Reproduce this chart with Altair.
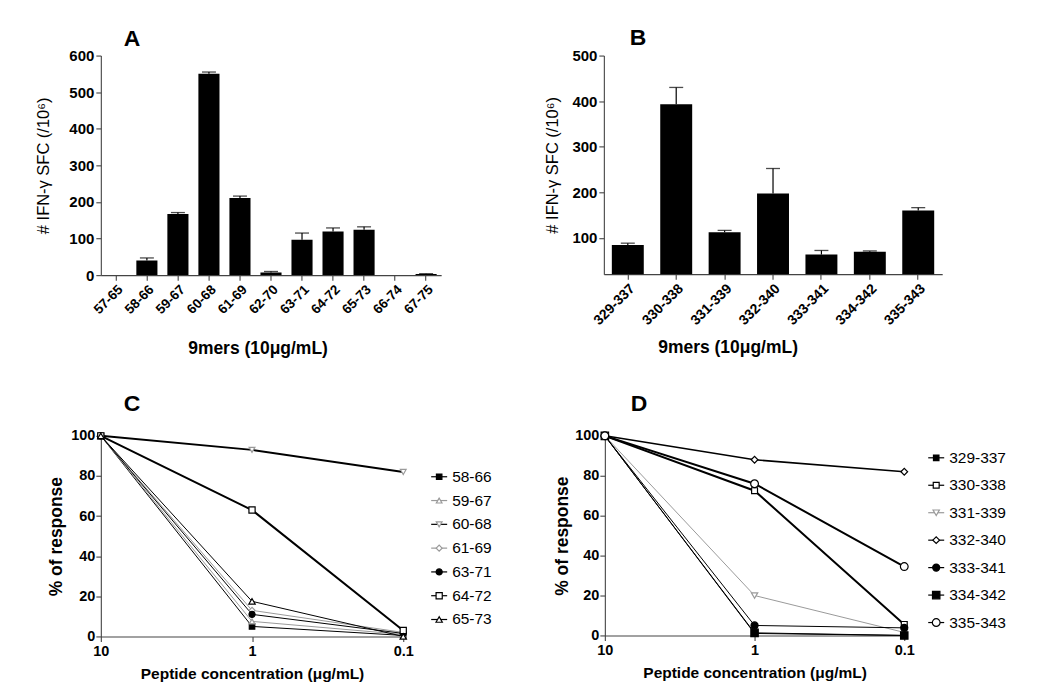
import altair as alt
import pandas as pd

FONT = "Liberation Sans"

# ---------------- data ----------------
a_peptides = ["57-65", "58-66", "59-67", "60-68", "61-69", "62-70",
              "63-71", "64-72", "65-73", "66-74", "67-75"]
a_mean = [0, 40, 167, 550, 211, 7, 97, 119, 124, 0, 3]
a_err = [0, 7, 4, 5, 5, 3, 18, 10, 8, 0, 1]

b_peptides = ["329-337", "330-338", "331-339", "332-340", "333-341", "334-342", "335-343"]
b_mean = [84, 393, 112, 197, 63, 69, 160]
b_err = [4, 37, 4, 55, 9, 2, 6]

conc = [10, 1, 0.1]

c_series = ["58-66", "59-67", "60-68", "61-69", "63-71", "64-72", "65-73"]
c_58_66 = [100, 5, 0.5]
c_59_67 = [100, 7.5, 1]
c_60_68 = [100, 93, 82]
c_61_69 = [100, 13, 2]
c_63_71 = [100, 11, 1.5]
c_64_72 = [100, 63, 3]
c_65_73 = [100, 17.5, 0]
c_values = [c_58_66, c_59_67, c_60_68, c_61_69, c_63_71, c_64_72, c_65_73]

d_series = ["329-337", "330-338", "331-339", "332-340", "333-341", "334-342", "335-343"]
d_329_337 = [100, 1, 0]
d_330_338 = [100, 72.5, 5.5]
d_331_339 = [100, 20, 1.5]
d_332_340 = [100, 88, 82]
d_333_341 = [100, 5, 3.8]
d_334_342 = [100, 1.3, 0]
d_335_343 = [100, 76, 34.5]
d_values = [d_329_337, d_330_338, d_331_339, d_332_340, d_333_341, d_334_342, d_335_343]

# ---------------- styles (per series, in order) ----------------
GREY = "#9a9a9a"
AXIS = "#444444"
c_style = dict(
    shape=["square", "triangle-up", "triangle-down", "diamond", "circle", "square", "triangle-up"],
    fill=["black", "white", "white", "white", "black", "white", "white"],
    stroke=["black", GREY, GREY, GREY, "black", "black", "black"],
    line=["black", GREY, "black", GREY, "black", "black", "black"],
    width=[1, 1, 2, 1, 1, 2, 1],
    size=[30, 40, 60, 40, 45, 70, 45],
)
d_style = dict(
    shape=["square", "square", "triangle-down", "diamond", "circle", "square", "circle"],
    fill=["black", "white", "white", "white", "black", "black", "white"],
    stroke=["black", "black", GREY, "black", "black", "black", "black"],
    line=["black", "black", GREY, "black", "black", "black", "black"],
    width=[1, 2, 1, 1.6, 1, 1, 2],
    size=[30, 60, 60, 60, 45, 55, 50],
)


def axis_common(**kw):
    base = dict(domainColor=AXIS, tickColor=AXIS, domainWidth=1.1, tickWidth=1.1,
                tickSize=5, labelFont=FONT, labelFontWeight="bold", labelColor="black",
                titleFont=FONT, titleColor="black", grid=False, labelOverlap=False)
    base.update(kw)
    return alt.Axis(**base)


def bar_panel(cats, mean, err, letter, ydom, yticks, width, height, p_in, p_out,
              title_x, label_fs, ytitle_pad, xtitle_pad, title_offset, title_dx):
    df = pd.DataFrame({"pep": cats, "mean": mean, "err": err})
    df["top"] = df["mean"] + df["err"]
    x = alt.X("pep:N", sort=cats,
              scale=alt.Scale(paddingInner=p_in, paddingOuter=p_out),
              axis=axis_common(title="9mers (10\u03bcg/mL)", labelAngle=-45, labelFontSize=label_fs,
                               titleFontSize=17.5, titleFontWeight="bold", titleX=title_x,
                               titlePadding=xtitle_pad, labelPadding=2))
    yscale = alt.Scale(domain=ydom, nice=False, zero=False)
    yaxis = axis_common(title="# IFN-\u03b3 SFC (/10\u2076)", values=yticks, labelFontSize=15,
                        titleFontSize=16.5, titleFontWeight="normal", titlePadding=ytitle_pad,
                        labelPadding=2)
    base = alt.Chart(df)
    bars = base.mark_bar(color="black", clip=True).encode(
        x=x, y=alt.Y("mean:Q", scale=yscale, axis=yaxis))
    errs = base.transform_filter("datum.err > 0").mark_rule(color="black", strokeWidth=1.2).encode(
        x=x, y=alt.Y("mean:Q", scale=yscale, axis=yaxis), y2="top:Q")
    caps = base.transform_filter("datum.err > 0").mark_tick(
        color="black", size=14, thickness=1.3).encode(
        x=x, y=alt.Y("top:Q", scale=yscale, axis=yaxis))
    return alt.layer(bars, errs, caps).properties(
        width=width, height=height,
        title=alt.TitleParams(letter, anchor="start", frame="group", dx=title_dx, offset=title_offset,
                              fontSize=23, font=FONT, fontWeight="bold", color="black"))


def line_panel(series, values, style, letter, width, height, ytitle_pad, title_offset, title_dx):
    rows = []
    for s, vals in zip(series, values):
        for c, v in zip(conc, vals):
            rows.append({"series": s, "conc": c, "pct": v})
    df = pd.DataFrame(rows)
    xscale = alt.Scale(type="log", domain=[0.1, 10], reverse=True, nice=False)
    xaxis = axis_common(title="Peptide concentration (\u03bcg/mL)", values=conc, format="~g",
                        labelFontSize=14.5, labelFlush=False, titleFontSize=15.5,
                        titleFontWeight="bold", labelPadding=3, titlePadding=9)
    yscale = alt.Scale(domain=[0, 100], nice=False)
    yaxis = axis_common(title="% of response", values=[0, 20, 40, 60, 80, 100],
                        labelFontSize=14.5, titleFontSize=17.5, titleFontWeight="bold",
                        labelPadding=1, titlePadding=ytitle_pad)
    x = alt.X("conc:Q", scale=xscale, axis=xaxis)
    y = alt.Y("pct:Q", scale=yscale, axis=yaxis)
    shape = alt.Shape("series:N", scale=alt.Scale(domain=series, range=style["shape"]), legend=None)
    fill = alt.Fill("series:N", scale=alt.Scale(domain=series, range=style["fill"]), legend=None)
    stroke = alt.Stroke("series:N", scale=alt.Scale(domain=series, range=style["stroke"]), legend=None)
    size = alt.Size("series:N", scale=alt.Scale(domain=series, range=style["size"]), legend=None)
    base = alt.Chart(df)
    layers = []
    for s, col, w in zip(series, style["line"], style["width"]):
        layers.append(base.transform_filter(alt.datum.series == s)
                      .mark_line(color=col, strokeWidth=w).encode(x=x, y=y))
    pts = base.mark_point(opacity=1, strokeWidth=1.2, fillOpacity=1).encode(
        x=x, y=y, shape=shape, fill=fill, stroke=stroke, size=size)
    layers.append(pts)
    chart = alt.layer(*layers).properties(
        width=width, height=height,
        title=alt.TitleParams(letter, anchor="start", frame="group", dx=title_dx, offset=title_offset,
                              fontSize=23, font=FONT, fontWeight="bold", color="black"))
    return chart


def legend_panel(series, style, width, height, ydom, x0, font_size):
    df = pd.DataFrame({"series": series, "rank": list(range(len(series)))})
    xs = alt.Scale(domain=[0, width], nice=False, zero=False)
    ys = alt.Scale(domain=ydom, reverse=True, nice=False, zero=False)
    y = alt.Y("rank:Q", scale=ys, axis=None)
    color = alt.Color("series:N", scale=alt.Scale(domain=series, range=style["line"]), legend=None)
    shape = alt.Shape("series:N", scale=alt.Scale(domain=series, range=style["shape"]), legend=None)
    fill = alt.Fill("series:N", scale=alt.Scale(domain=series, range=style["fill"]), legend=None)
    stroke = alt.Stroke("series:N", scale=alt.Scale(domain=series, range=style["stroke"]), legend=None)
    size = alt.Size("series:N", scale=alt.Scale(domain=series, range=style["size"]), legend=None)
    base = alt.Chart(df)
    rule = base.mark_rule(strokeWidth=1.2).encode(
        x=alt.X(datum=x0, scale=xs, axis=None), x2=alt.X2(datum=x0 + 16), y=y, color=color)
    pts = base.mark_point(opacity=1, strokeWidth=1.2, fillOpacity=1).encode(
        x=alt.X(datum=x0 + 8, scale=xs, axis=None), y=y, shape=shape, fill=fill, stroke=stroke,
        size=size)
    txt = base.mark_text(align="left", baseline="middle", font=FONT, fontSize=font_size,
                         color="black").encode(
        x=alt.X(datum=x0 + 21, scale=xs, axis=None), y=y, text="series:N")
    return alt.layer(rule, pts, txt).properties(width=width, height=height)


A = bar_panel(a_peptides, a_mean, a_err, "A", [0, 600], [0, 100, 200, 300, 400, 500, 600],
              341, 220, 0.32, 0.145, 157, 13.5, 17, 24, -2, 23)
B = bar_panel(b_peptides, b_mean, b_err, "B", [20, 500], [100, 200, 300, 400, 500],
              339, 219, 0.34, 0.165, 124, 14, 11, 11, -1, 26)

C = line_panel(c_series, c_values, c_style, "C", 303, 201, 5, 12, 23)
D = line_panel(d_series, d_values, d_style, "D", 300, 200, 3, 12, 26)

Cleg = legend_panel(c_series, c_style, 156, 200, [-1.72, 6.67], 5, 15.5)
Dleg = legend_panel(d_series, d_style, 110, 200, [-0.8, 6.47], 1, 15.5)

top = alt.hconcat(A, B, spacing=163, bounds="flush").resolve_scale(
    x="independent", y="independent")
bottom = alt.hconcat(C, Cleg, D, Dleg, spacing=23, bounds="flush").resolve_scale(
    x="independent", y="independent", shape="independent",
    fill="independent", stroke="independent", size="independent", color="independent")

chart = alt.vconcat(top, bottom, spacing=35).properties(
    padding={"left": 27, "top": 18, "right": 5, "bottom": 5},
    background="white",
).configure_view(stroke=None)

chart.save("out.html", embed_options={"renderer": "svg", "actions": False})
